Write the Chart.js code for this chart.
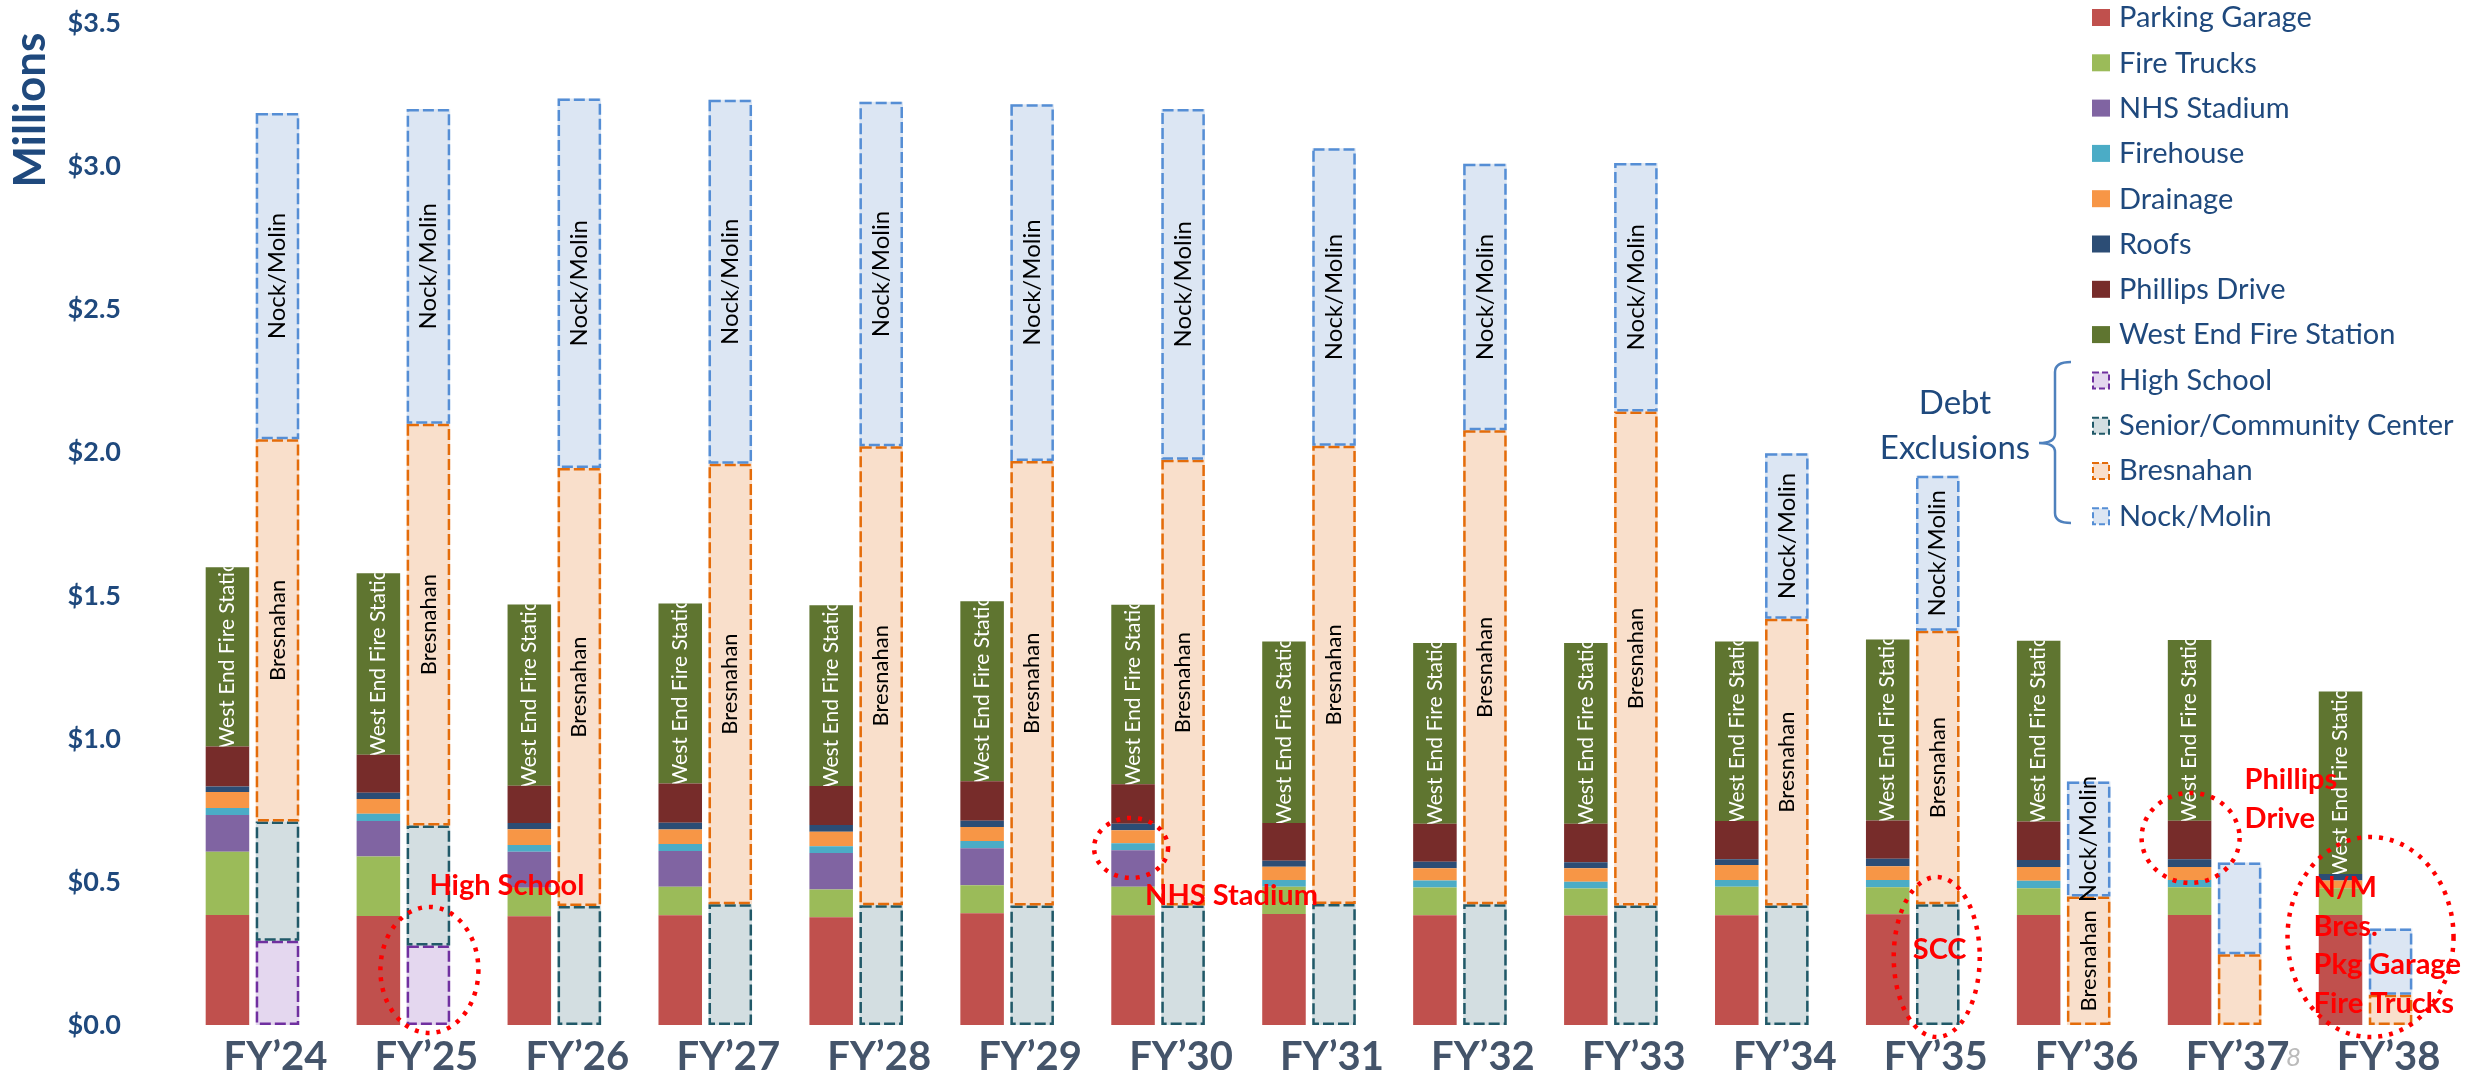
<!DOCTYPE html>
<html>
<head>
<meta charset="utf-8">
<script src="https://cdn.jsdelivr.net/npm/chart.js@4.4.1/dist/chart.umd.min.js"></script>
<style>
  html, body { margin: 0; padding: 0; background: #fff; }
  #wrap { width: 2471px; height: 1080px; position: relative; }
</style>
</head>
<body>
<div id="wrap"><canvas id="debt-chart" width="2471" height="1080"></canvas></div>
<script>
const years = ['FY’24', 'FY’25', 'FY’26', 'FY’27', 'FY’28', 'FY’29', 'FY’30', 'FY’31', 'FY’32', 'FY’33', 'FY’34', 'FY’35', 'FY’36', 'FY’37', 'FY’38'];

// within-levy debt ($M)
const parkingGarage = [0.386, 0.382, 0.381, 0.385, 0.378, 0.392, 0.385, 0.389, 0.385, 0.384, 0.385, 0.388, 0.386, 0.386, 0.386];
const fireTrucks    = [0.221, 0.208, 0.100, 0.099, 0.097, 0.098, 0.099, 0.095, 0.097, 0.094, 0.099, 0.095, 0.093, 0.097, 0.093];
const nhsStadium    = [0.128, 0.124, 0.126, 0.125, 0.127, 0.129, 0.128, 0, 0, 0, 0, 0, 0, 0, 0];
const firehouse     = [0.024, 0.025, 0.023, 0.025, 0.024, 0.025, 0.024, 0.024, 0.024, 0.024, 0.024, 0.025, 0.026, 0.025, 0];
const drainage      = [0.056, 0.052, 0.055, 0.050, 0.050, 0.049, 0.046, 0.046, 0.043, 0.047, 0.052, 0.048, 0.048, 0.045, 0.027];
const roofs         = [0.019, 0.022, 0.022, 0.024, 0.024, 0.022, 0.022, 0.021, 0.023, 0.021, 0.020, 0.026, 0.025, 0.027, 0.023];
const phillipsDrive = [0.140, 0.132, 0.130, 0.137, 0.136, 0.138, 0.138, 0.132, 0.132, 0.134, 0.134, 0.134, 0.134, 0.135, 0];
const westEndFire   = [0.626, 0.634, 0.633, 0.628, 0.631, 0.628, 0.627, 0.634, 0.631, 0.631, 0.627, 0.632, 0.631, 0.631, 0.637];

// debt exclusions ($M)
const highSchool    = [0.296, 0.279, 0, 0, 0, 0, 0, 0, 0, 0, 0, 0, 0, 0, 0];
const seniorCenter  = [0.416, 0.419, 0.417, 0.423, 0.420, 0.419, 0.419, 0.424, 0.423, 0.419, 0.419, 0.423, 0, 0, 0];
const bresnahan     = [1.335, 1.403, 1.529, 1.538, 1.602, 1.552, 1.556, 1.600, 1.655, 1.725, 1.001, 0.955, 0.450, 0.249, 0.107];
const nockMolin     = [1.139, 1.099, 1.290, 1.271, 1.203, 1.245, 1.225, 1.039, 0.931, 0.867, 0.578, 0.541, 0.402, 0.320, 0.232];

const NAVY = '#1F497D';
const FONT = 'Lato, "Open Sans", sans-serif';

function solid(label, data, color) {
  return { label, data, backgroundColor: color, stack: 'levy', borderWidth: 0,
           categoryPercentage: 0.663, barPercentage: 0.87 };
}
function dashed(label, data, fill, line) {
  return { label, data, backgroundColor: fill, borderColor: line, stack: 'excl', borderWidth: 0,
           categoryPercentage: 0.663, barPercentage: 0.87, dashed: true };
}

const datasets = [
  solid('Parking Garage', parkingGarage, '#C0504D'),
  solid('Fire Trucks', fireTrucks, '#9BBB59'),
  solid('NHS Stadium', nhsStadium, '#8064A2'),
  solid('Firehouse', firehouse, '#4BACC6'),
  solid('Drainage', drainage, '#F79646'),
  solid('Roofs', roofs, '#2C4D75'),
  solid('Phillips Drive', phillipsDrive, '#772C2A'),
  solid('West End Fire Station', westEndFire, '#5F7530'),
  dashed('High School', highSchool, '#E4D7EF', '#7030A0'),
  dashed('Senior/Community Center', seniorCenter, '#D3DEE1', '#215968'),
  dashed('Bresnahan', bresnahan, '#F9DFCB', '#E46C0A'),
  dashed('Nock/Molin', nockMolin, '#DCE6F3', '#558ED5')
];

// red call-outs: text anchored to a category, y given in $M
const notes = [
  { idx: 1, dx: 26, v: 0.487, lines: ['High School'] },
  { idx: 6, dx: -13, v: 0.452, lines: ['NHS Stadium'] },
  { idx: 11, dx: 0, v: 0.264, lines: ['SCC'] },
  { idx: 13, dx: 30, v: 0.857, lines: ['Phillips', 'Drive'] },
  { idx: 14, dx: -52, v: 0.480, lines: ['N/M', 'Bres.', 'Pkg Garage', 'Fire Trucks'] }
];
const rings = [
  { idx: 1, dx: 26, v: 0.194, rx: 49, ry: 63 },
  { idx: 6, dx: -27, v: 0.620, rx: 37, ry: 30 },
  { idx: 11, dx: 24, v: 0.239, rx: 43, ry: 80 },
  { idx: 13, dx: -24, v: 0.655, rx: 49, ry: 45 },
  { idx: 14, dx: 5, v: 0.309, rx: 83, ry: 100 }
];

const dashOutline = {
  id: 'dashOutline',
  afterDatasetsDraw(chart) {
    const ctx = chart.ctx;
    chart.data.datasets.forEach((ds, i) => {
      if (!ds.dashed) return;
      chart.getDatasetMeta(i).data.forEach((bar, j) => {
        if (!ds.data[j]) return;
        const { x, y, base, width } = bar.getProps(['x', 'y', 'base', 'width'], true);
        ctx.save();
        ctx.strokeStyle = ds.borderColor;
        ctx.lineWidth = 2.5;
        ctx.setLineDash([11, 4]);
        ctx.strokeRect(x - width / 2 + 1.25, y + 1.25, width - 2.5, base - y - 2.5);
        ctx.restore();
      });
    });
  }
};

const barText = {
  id: 'barText',
  afterDatasetsDraw(chart) {
    const ctx = chart.ctx;
    chart.data.datasets.forEach((ds, i) => {
      const meta = chart.getDatasetMeta(i);
      meta.data.forEach((bar, j) => {
        if (!ds.data[j]) return;
        const { x, y, base, width } = bar.getProps(['x', 'y', 'base', 'width'], true);
        const h = base - y;
        ctx.save();
        if (ds.label === 'West End Fire Station') {
          ctx.beginPath();
          ctx.rect(x - width / 2, y, width, h);
          ctx.clip();
          ctx.translate(x, base + 2);
          ctx.rotate(-Math.PI / 2);
          ctx.fillStyle = '#ffffff';
          ctx.font = '21px ' + FONT;
          ctx.textAlign = 'left';
          ctx.textBaseline = 'middle';
          ctx.fillText(ds.label, 0, 0);
        } else if ((ds.label === 'Bresnahan' || ds.label === 'Nock/Molin') && h >= 105) {
          ctx.translate(x, (y + base) / 2);
          ctx.rotate(-Math.PI / 2);
          ctx.fillStyle = '#000000';
          ctx.font = (ds.label === 'Nock/Molin' ? '24px ' : '22px ') + FONT;
          ctx.textAlign = 'center';
          ctx.textBaseline = 'middle';
          ctx.fillText(ds.label, 0, 0);
        }
        ctx.restore();
      });
    });
  }
};

const callouts = {
  id: 'callouts',
  afterDraw(chart) {
    const ctx = chart.ctx;
    const xs = chart.scales.x, ys = chart.scales.y;
    ctx.save();
    ctx.fillStyle = '#FF0000';
    ctx.font = 'bold 29px ' + FONT;
    ctx.textAlign = 'left';
    ctx.textBaseline = 'middle';
    notes.forEach(n => {
      const x0 = xs.getPixelForValue(n.idx) + n.dx;
      const y0 = ys.getPixelForValue(n.v);
      n.lines.forEach((t, k) => ctx.fillText(t, x0, y0 + k * 38.5));
    });
    ctx.strokeStyle = '#FF0000';
    ctx.lineWidth = 4.5;
    ctx.setLineDash([4, 7]);
    rings.forEach(r => {
      ctx.beginPath();
      ctx.ellipse(xs.getPixelForValue(r.idx) + r.dx, ys.getPixelForValue(r.v), r.rx, r.ry, 0, 0, Math.PI * 2);
      ctx.stroke();
    });
    ctx.setLineDash([]);
    // slide number peeking out behind the axis label
    ctx.fillStyle = '#BBBBBB';
    ctx.font = 'italic 26px ' + FONT;
    ctx.fillText('8', 2286, 1058);
    ctx.restore();
  }
};

const sideLegend = {
  id: 'sideLegend',
  afterDraw(chart) {
    const ctx = chart.ctx;
    ctx.save();
    // axis title
    ctx.fillStyle = NAVY;
    ctx.font = 'bold 44px ' + FONT;
    ctx.textAlign = 'center';
    ctx.textBaseline = 'alphabetic';
    ctx.translate(45, 110);
    ctx.rotate(-Math.PI / 2);
    ctx.fillText('Millions', 0, 0);
    ctx.setTransform(1, 0, 0, 1, 0, 0);

    ctx.textBaseline = 'middle';
    ctx.textAlign = 'left';
    chart.data.datasets.forEach((ds, i) => {
      const cy = 18 + i * 45.3;
      if (ds.dashed) {
        ctx.fillStyle = ds.backgroundColor;
        ctx.fillRect(2093, cy - 8, 16, 16);
        ctx.strokeStyle = ds.borderColor;
        ctx.lineWidth = 2;
        ctx.setLineDash([6, 3]);
        ctx.strokeRect(2093, cy - 8, 16, 16);
        ctx.setLineDash([]);
      } else {
        ctx.fillStyle = ds.backgroundColor;
        ctx.fillRect(2092, cy - 9, 18, 17);
      }
      ctx.fillStyle = NAVY;
      ctx.font = '29px ' + FONT;
      ctx.fillText(ds.label, 2119, cy);
    });
    // "Debt Exclusions" bracket
    ctx.font = '33px ' + FONT;
    ctx.textAlign = 'center';
    ctx.fillText('Debt', 1955, 403);
    ctx.fillText('Exclusions', 1955, 448);
    ctx.strokeStyle = '#4F81BD';
    ctx.lineWidth = 2.5;
    ctx.beginPath();
    ctx.moveTo(2071, 362);
    ctx.quadraticCurveTo(2055, 362, 2055, 372);
    ctx.lineTo(2055, 434);
    ctx.quadraticCurveTo(2055, 443, 2039, 443);
    ctx.quadraticCurveTo(2055, 443, 2055, 452);
    ctx.lineTo(2055, 513);
    ctx.quadraticCurveTo(2055, 523, 2071, 523);
    ctx.stroke();
    ctx.restore();
  }
};

new Chart(document.getElementById('debt-chart'), {
  type: 'bar',
  data: { labels: years, datasets },
  options: {
    responsive: false,
    animation: false,
    devicePixelRatio: 1,
    layout: { padding: { top: 23, right: 30, left: 0, bottom: 0 } },
    plugins: {
      legend: { display: false },
      tooltip: { enabled: false }
    },
    scales: {
      x: {
        stacked: true,
        grid: { display: false, drawTicks: false },
        border: { display: false },
        ticks: {
          color: '#44546A',
          font: { family: FONT, size: 40, weight: 'bold' },
          padding: 8,
          labelOffset: 23,
          maxRotation: 0
        },
        afterFit: s => { s.height = 54.5; }
      },
      y: {
        stacked: true,
        min: 0,
        max: 3.5,
        // invisible tick marks push the labels away from the bars
        grid: { display: true, drawOnChartArea: false, drawTicks: true, tickLength: 56, color: 'rgba(0,0,0,0)' },
        border: { display: false },
        ticks: {
          stepSize: 0.5,
          color: NAVY,
          font: { family: FONT, size: 27, weight: 'bold' },
          padding: 0,
          callback: v => '$' + Number(v).toFixed(1)
        },
        afterFit: s => { s.width = 177; }
      }
    }
  },
  plugins: [dashOutline, barText, callouts, sideLegend]
});
</script>
</body>
</html>
